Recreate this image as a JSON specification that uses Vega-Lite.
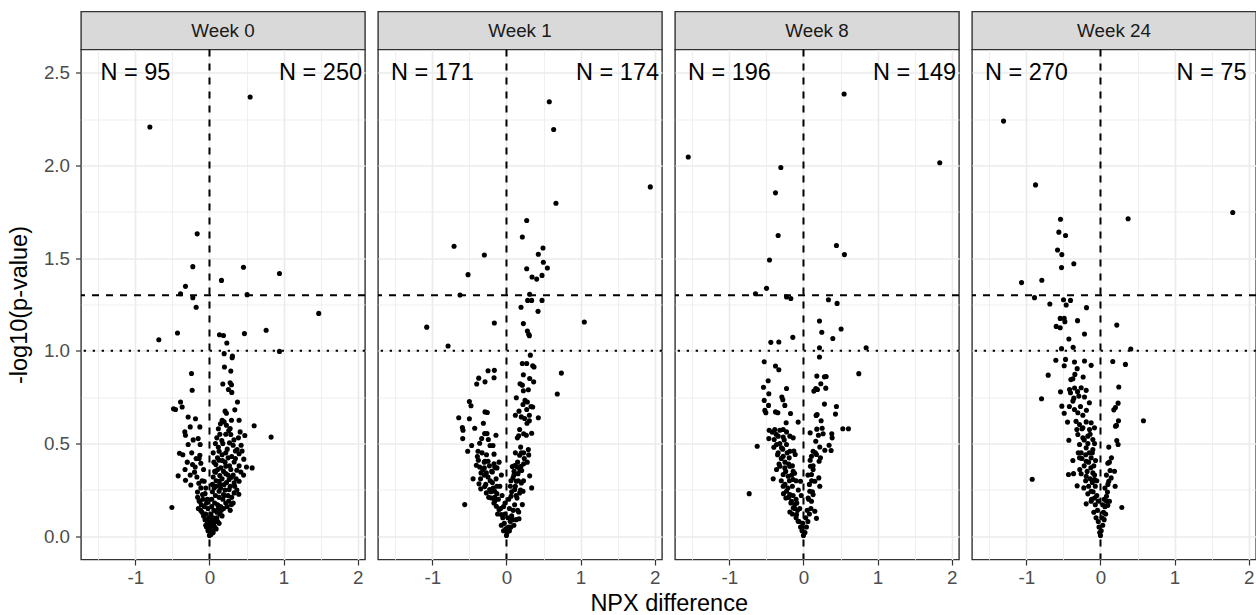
{
"$schema": "https://vega.github.io/schema/vega-lite/v6.json",
"background": "white",
"padding": {"left": 6, "top": 10.5, "right": 0, "bottom": 2},
"title": {"text": "NPX difference", "orient": "bottom", "anchor": "middle", "fontSize": 23.5, "fontWeight": "normal", "font": "Liberation Sans", "color": "#000000", "offset": 4, "dx": 37},
"datasets": {
"w0": [
{"x":0.549,"y":2.369},{"x":-0.805,"y":2.207},{"x":-0.166,"y":1.631},{"x":-0.225,"y":1.454},{"x":0.459,"y":1.451},{"x":0.945,"y":1.417},{"x":0.162,"y":1.380},{"x":-0.324,"y":1.348},{"x":-0.391,"y":1.308},{"x":-0.225,"y":1.287},{"x":0.508,"y":1.303},{"x":-0.180,"y":1.235},{"x":1.475,"y":1.202},{"x":-0.684,"y":1.060},{"x":-0.432,"y":1.096},{"x":0.135,"y":1.087},{"x":0.189,"y":1.083},{"x":0.472,"y":1.093},{"x":0.765,"y":1.111},{"x":0.234,"y":1.042},{"x":0.945,"y":0.997},{"x":0.198,"y":0.985},{"x":0.310,"y":0.972},{"x":0.306,"y":0.963},{"x":-0.243,"y":0.878},{"x":0.202,"y":0.913},{"x":0.288,"y":0.891},{"x":0.180,"y":0.821},{"x":0.279,"y":0.828},{"x":0.297,"y":0.817},{"x":-0.234,"y":0.788},{"x":0.256,"y":0.792},{"x":0.301,"y":0.776},{"x":-0.391,"y":0.724},{"x":0.378,"y":0.724},{"x":-0.369,"y":0.697},{"x":-0.486,"y":0.688},{"x":-0.459,"y":0.684},{"x":0.211,"y":0.675},{"x":0.229,"y":0.664},{"x":0.342,"y":0.682},{"x":-0.288,"y":0.643},{"x":-0.189,"y":0.634},{"x":0.171,"y":0.626},{"x":0.198,"y":0.617},{"x":0.297,"y":0.626},{"x":0.400,"y":0.626},{"x":-0.130,"y":0.590},{"x":0.229,"y":0.599},{"x":0.148,"y":0.607},{"x":0.279,"y":0.581},{"x":0.603,"y":0.596},{"x":-0.333,"y":0.563},{"x":-0.324,"y":0.545},{"x":0.414,"y":0.563},{"x":0.477,"y":0.544},{"x":0.288,"y":0.549},{"x":0.832,"y":0.535},{"x":-0.153,"y":0.527},{"x":0.099,"y":0.531},{"x":0.166,"y":0.517},{"x":0.391,"y":0.531},{"x":-0.288,"y":0.495},{"x":-0.126,"y":0.495},{"x":0.270,"y":0.504},{"x":0.319,"y":0.491},{"x":0.427,"y":0.491},{"x":0.130,"y":0.459},{"x":0.220,"y":0.450},{"x":0.373,"y":0.468},{"x":0.400,"y":0.445},{"x":-0.405,"y":0.448},{"x":-0.130,"y":0.437},{"x":-0.180,"y":0.419},{"x":0.108,"y":0.423},{"x":0.175,"y":0.409},{"x":0.252,"y":0.423},{"x":0.333,"y":0.401},{"x":0.463,"y":0.416},{"x":-0.117,"y":0.394},{"x":-0.229,"y":0.387},{"x":-0.193,"y":0.374},{"x":0.085,"y":0.387},{"x":0.153,"y":0.369},{"x":0.220,"y":0.378},{"x":0.288,"y":0.360},{"x":0.499,"y":0.374},{"x":0.576,"y":0.369},{"x":0.369,"y":0.356},{"x":0.423,"y":0.347},{"x":-0.202,"y":0.346},{"x":-0.423,"y":0.326},{"x":0.081,"y":0.346},{"x":0.139,"y":0.328},{"x":0.220,"y":0.338},{"x":0.297,"y":0.319},{"x":-0.324,"y":0.302},{"x":-0.252,"y":0.277},{"x":-0.144,"y":0.286},{"x":-0.072,"y":0.297},{"x":-0.117,"y":0.261},{"x":-0.162,"y":0.239},{"x":0.130,"y":0.297},{"x":0.198,"y":0.279},{"x":0.265,"y":0.306},{"x":0.333,"y":0.288},{"x":0.400,"y":0.297},{"x":0.063,"y":0.261},{"x":0.130,"y":0.243},{"x":0.189,"y":0.225},{"x":0.265,"y":0.252},{"x":0.333,"y":0.234},{"x":0.396,"y":0.227},{"x":-0.094,"y":0.225},{"x":-0.130,"y":0.189},{"x":-0.508,"y":0.155},{"x":0.297,"y":0.171},
{"x":0.05,"y":0.45},{"x":0.08,"y":0.50},{"x":0.12,"y":0.48},{"x":0.17,"y":0.44},{"x":0.24,"y":0.47},{"x":0.30,"y":0.43},{"x":0.35,"y":0.42},{"x":0.06,"y":0.40},{"x":0.11,"y":0.36},{"x":0.19,"y":0.35},{"x":0.25,"y":0.33},{"x":0.32,"y":0.33},{"x":0.36,"y":0.31},{"x":0.05,"y":0.32},{"x":0.09,"y":0.30},{"x":0.17,"y":0.31},{"x":0.23,"y":0.29},{"x":0.28,"y":0.27},{"x":0.04,"y":0.28},{"x":0.09,"y":0.27},{"x":0.15,"y":0.26},{"x":0.21,"y":0.25},{"x":0.25,"y":0.22},{"x":0.30,"y":0.21},{"x":0.04,"y":0.24},{"x":0.08,"y":0.22},{"x":0.13,"y":0.21},{"x":0.18,"y":0.20},{"x":0.22,"y":0.18},{"x":0.26,"y":0.19},{"x":0.03,"y":0.20},{"x":0.07,"y":0.18},{"x":0.11,"y":0.17},{"x":0.15,"y":0.16},{"x":0.19,"y":0.15},{"x":0.24,"y":0.16},{"x":0.03,"y":0.16},{"x":0.06,"y":0.14},{"x":0.10,"y":0.13},{"x":0.14,"y":0.12},{"x":0.17,"y":0.11},{"x":0.02,"y":0.12},{"x":0.05,"y":0.10},{"x":0.08,"y":0.09},{"x":0.11,"y":0.08},{"x":0.13,"y":0.07},{"x":0.02,"y":0.08},{"x":0.04,"y":0.06},{"x":0.07,"y":0.05},{"x":0.09,"y":0.04},{"x":0.01,"y":0.04},{"x":0.03,"y":0.03},{"x":0.05,"y":0.02},{"x":0.02,"y":0.01},{"x":0.00,"y":0.005},{"x":0.01,"y":0.02},{"x":0.06,"y":0.07},{"x":0.10,"y":0.10},{"x":0.16,"y":0.14},{"x":0.12,"y":0.15},{"x":0.20,"y":0.22},{"x":0.14,"y":0.28},{"x":0.07,"y":0.35},{"x":0.13,"y":0.41},{"x":0.21,"y":0.40},{"x":0.27,"y":0.38},{"x":0.14,"y":0.55},{"x":0.22,"y":0.55},{"x":0.18,"y":0.50},{"x":0.26,"y":0.57},{"x":0.12,"y":0.58},{"x":0.33,"y":0.52},{"x":0.35,"y":0.46},{"x":0.44,"y":0.46},{"x":0.40,"y":0.38},{"x":0.46,"y":0.33},{"x":0.34,"y":0.27},{"x":0.37,"y":0.25},{"x":0.28,"y":0.14},{"x":0.32,"y":0.18},
{"x":-0.02,"y":0.03},{"x":-0.04,"y":0.05},{"x":-0.03,"y":0.08},{"x":-0.06,"y":0.09},{"x":-0.08,"y":0.11},{"x":-0.05,"y":0.12},{"x":-0.10,"y":0.13},{"x":-0.12,"y":0.14},{"x":-0.15,"y":0.15},{"x":-0.07,"y":0.16},{"x":-0.11,"y":0.17},{"x":-0.14,"y":0.19},{"x":-0.09,"y":0.20},{"x":-0.04,"y":0.18},{"x":-0.16,"y":0.21},{"x":-0.06,"y":0.23},{"x":-0.02,"y":0.15},{"x":-0.01,"y":0.10},{"x":-0.03,"y":0.20},{"x":-0.05,"y":0.26},{"x":-0.10,"y":0.30},{"x":-0.17,"y":0.32},{"x":-0.26,"y":0.33},{"x":-0.30,"y":0.40},{"x":-0.14,"y":0.42},{"x":-0.24,"y":0.45},{"x":-0.33,"y":0.36},{"x":-0.36,"y":0.44},{"x":-0.22,"y":0.52},{"x":-0.26,"y":0.59},{"x":-0.08,"y":0.36},{"x":-0.05,"y":0.06},{"x":-0.01,"y":0.06}
],
"w1": [
{"x":0.578,"y":2.343},{"x":0.637,"y":2.194},{"x":1.942,"y":1.884},{"x":0.668,"y":1.796},{"x":0.273,"y":1.703},{"x":0.214,"y":1.614},{"x":-0.708,"y":1.564},{"x":0.493,"y":1.555},{"x":-0.299,"y":1.517},{"x":0.430,"y":1.521},{"x":0.498,"y":1.478},{"x":0.273,"y":1.443},{"x":0.552,"y":1.447},{"x":-0.519,"y":1.411},{"x":0.345,"y":1.398},{"x":0.408,"y":1.387},{"x":0.480,"y":1.407},{"x":-0.627,"y":1.301},{"x":0.313,"y":1.305},{"x":0.286,"y":1.272},{"x":0.340,"y":1.272},{"x":0.480,"y":1.272},{"x":0.196,"y":1.235},{"x":0.426,"y":1.213},{"x":-1.077,"y":1.128},{"x":-0.164,"y":1.150},{"x":1.051,"y":1.156},{"x":0.228,"y":1.147},{"x":0.282,"y":1.107},{"x":0.300,"y":1.089},{"x":0.309,"y":1.082},{"x":-0.789,"y":1.026},{"x":0.322,"y":0.977},{"x":0.214,"y":0.932},{"x":0.273,"y":0.932},{"x":0.354,"y":0.920},{"x":0.372,"y":0.913},{"x":0.741,"y":0.880},{"x":-0.249,"y":0.893},{"x":-0.164,"y":0.895},{"x":-0.375,"y":0.853},{"x":-0.168,"y":0.855},{"x":-0.290,"y":0.833},{"x":-0.402,"y":0.821},{"x":0.228,"y":0.871},{"x":0.313,"y":0.851},{"x":0.367,"y":0.833},{"x":0.183,"y":0.823},{"x":0.214,"y":0.815},{"x":0.228,"y":0.785},{"x":0.295,"y":0.790},{"x":0.686,"y":0.767},{"x":0.133,"y":0.747},{"x":-0.501,"y":0.727},{"x":-0.479,"y":0.704},{"x":0.250,"y":0.733},{"x":0.282,"y":0.724},{"x":0.223,"y":0.711},{"x":0.331,"y":0.700},{"x":0.273,"y":0.684},{"x":0.354,"y":0.697},{"x":-0.290,"y":0.671},{"x":-0.259,"y":0.668},{"x":0.120,"y":0.653},{"x":0.169,"y":0.675},{"x":0.200,"y":0.644},{"x":0.245,"y":0.635},{"x":0.309,"y":0.653},{"x":0.430,"y":0.639},{"x":-0.645,"y":0.639},{"x":-0.501,"y":0.634},{"x":-0.312,"y":0.610},{"x":0.309,"y":0.623},{"x":0.277,"y":0.610},{"x":-0.596,"y":0.587},{"x":-0.587,"y":0.572},{"x":-0.429,"y":0.583},{"x":0.178,"y":0.576},{"x":0.232,"y":0.553},{"x":0.268,"y":0.545},{"x":0.340,"y":0.556},{"x":0.147,"y":0.531},{"x":0.165,"y":0.542},{"x":-0.295,"y":0.554},{"x":-0.263,"y":0.554},{"x":-0.335,"y":0.527},{"x":-0.245,"y":0.522},{"x":-0.142,"y":0.545},{"x":-0.591,"y":0.527},{"x":-0.362,"y":0.502},{"x":-0.470,"y":0.490},{"x":-0.524,"y":0.459},{"x":-0.222,"y":0.490},{"x":-0.182,"y":0.490},{"x":-0.384,"y":0.459},{"x":-0.393,"y":0.430},{"x":-0.168,"y":0.443},{"x":0.191,"y":0.481},{"x":0.295,"y":0.468},{"x":0.232,"y":0.450},{"x":0.178,"y":0.437},{"x":0.300,"y":0.439},
{"x":-0.407,"y":0.383},{"x":-0.290,"y":0.405},{"x":-0.249,"y":0.405},{"x":-0.168,"y":0.391},{"x":-0.362,"y":0.374},{"x":-0.299,"y":0.369},{"x":-0.159,"y":0.374},{"x":-0.128,"y":0.369},{"x":-0.344,"y":0.342},{"x":-0.272,"y":0.342},{"x":-0.191,"y":0.347},{"x":-0.069,"y":0.331},{"x":-0.451,"y":0.310},{"x":0.079,"y":0.376},{"x":0.111,"y":0.382},{"x":0.142,"y":0.374},{"x":0.196,"y":0.378},{"x":0.232,"y":0.391},{"x":0.102,"y":0.351},{"x":0.156,"y":0.338},{"x":0.205,"y":0.355},{"x":0.313,"y":0.326},{"x":0.340,"y":0.261},{"x":0.088,"y":0.315},{"x":0.133,"y":0.297},{"x":0.201,"y":0.288},{"x":0.052,"y":0.270},{"x":0.111,"y":0.252},{"x":0.178,"y":0.234},{"x":0.223,"y":0.243},{"x":0.061,"y":0.216},{"x":0.142,"y":0.207},{"x":0.214,"y":0.171},{"x":0.165,"y":0.131},{"x":0.169,"y":0.095},{"x":-0.371,"y":0.283},{"x":-0.348,"y":0.256},{"x":-0.294,"y":0.268},{"x":-0.272,"y":0.234},{"x":-0.227,"y":0.252},{"x":-0.159,"y":0.243},{"x":-0.204,"y":0.207},{"x":-0.159,"y":0.189},{"x":-0.137,"y":0.162},{"x":-0.101,"y":0.144},{"x":-0.069,"y":0.117},{"x":-0.564,"y":0.171},
{"x":-0.05,"y":0.10},{"x":-0.03,"y":0.07},{"x":-0.01,"y":0.04},{"x":0.01,"y":0.02},{"x":0.00,"y":0.005},{"x":0.03,"y":0.05},{"x":0.05,"y":0.08},{"x":0.07,"y":0.11},{"x":0.09,"y":0.14},{"x":0.11,"y":0.17},{"x":0.04,"y":0.15},{"x":0.02,"y":0.10},{"x":-0.02,"y":0.12},{"x":-0.04,"y":0.16},{"x":-0.08,"y":0.15},{"x":-0.11,"y":0.20},{"x":-0.13,"y":0.23},{"x":-0.18,"y":0.26},{"x":-0.22,"y":0.30},{"x":-0.25,"y":0.32},{"x":-0.30,"y":0.33},{"x":-0.20,"y":0.35},{"x":-0.14,"y":0.31},{"x":-0.09,"y":0.27},{"x":-0.06,"y":0.22},{"x":-0.02,"y":0.18},{"x":0.03,"y":0.20},{"x":0.07,"y":0.24},{"x":0.12,"y":0.27},{"x":0.16,"y":0.30},{"x":0.06,"y":0.30},{"x":0.13,"y":0.22},{"x":0.10,"y":0.33},{"x":0.15,"y":0.40},{"x":0.24,"y":0.42},{"x":0.28,"y":0.40},{"x":0.18,"y":0.36},{"x":0.20,"y":0.45},{"x":0.12,"y":0.45},{"x":-0.27,"y":0.44},{"x":-0.33,"y":0.45},{"x":-0.30,"y":0.40},{"x":-0.35,"y":0.31},{"x":-0.28,"y":0.28},{"x":-0.24,"y":0.21},{"x":-0.17,"y":0.18},{"x":-0.12,"y":0.12},{"x":-0.07,"y":0.06},{"x":-0.04,"y":0.03},{"x":0.04,"y":0.03},{"x":0.06,"y":0.05},{"x":0.08,"y":0.09},{"x":-0.15,"y":0.37},{"x":-0.10,"y":0.40},{"x":-0.23,"y":0.38},{"x":-0.19,"y":0.29},{"x":-0.13,"y":0.27},{"x":0.19,"y":0.25},{"x":0.23,"y":0.30},{"x":0.15,"y":0.14},{"x":0.13,"y":0.09},{"x":0.10,"y":0.06},{"x":-0.16,"y":0.21},{"x":-0.21,"y":0.24},{"x":-0.32,"y":0.36},{"x":-0.38,"y":0.41}
],
"w8": [
{"x":0.549,"y":2.385},{"x":-1.556,"y":2.045},{"x":1.840,"y":2.014},{"x":-0.306,"y":1.989},{"x":-0.378,"y":1.852},{"x":-0.342,"y":1.622},{"x":0.445,"y":1.568},{"x":0.553,"y":1.519},{"x":-0.459,"y":1.490},{"x":-0.499,"y":1.337},{"x":-0.648,"y":1.308},{"x":-0.229,"y":1.291},{"x":-0.171,"y":1.282},{"x":0.337,"y":1.276},{"x":0.454,"y":1.256},{"x":0.216,"y":1.161},{"x":0.247,"y":1.100},{"x":0.508,"y":1.118},{"x":-0.144,"y":1.073},{"x":-0.441,"y":1.046},{"x":-0.333,"y":1.048},{"x":0.396,"y":1.067},{"x":0.216,"y":1.017},{"x":0.846,"y":1.017},{"x":0.216,"y":0.967},{"x":-0.531,"y":0.941},{"x":-0.378,"y":0.918},{"x":-0.333,"y":0.898},{"x":0.747,"y":0.877},{"x":0.180,"y":0.864},{"x":0.283,"y":0.860},{"x":0.306,"y":0.862},{"x":-0.477,"y":0.839},{"x":0.234,"y":0.823},{"x":-0.540,"y":0.804},{"x":-0.468,"y":0.769},{"x":-0.229,"y":0.797},{"x":0.166,"y":0.797},{"x":0.140,"y":0.783},{"x":0.189,"y":0.792},{"x":0.301,"y":0.799},{"x":-0.292,"y":0.751},{"x":-0.279,"y":0.736},{"x":-0.531,"y":0.733},{"x":-0.472,"y":0.706},{"x":-0.252,"y":0.706},{"x":0.283,"y":0.713},{"x":0.445,"y":0.700},{"x":-0.522,"y":0.679},{"x":-0.508,"y":0.666},{"x":-0.378,"y":0.671},{"x":-0.346,"y":0.666},{"x":-0.175,"y":0.662},{"x":0.432,"y":0.659},{"x":0.171,"y":0.652},{"x":0.184,"y":0.657},{"x":0.238,"y":0.623},{"x":-0.072,"y":0.616},{"x":-0.234,"y":0.612},{"x":0.531,"y":0.580},{"x":0.607,"y":0.580},{"x":0.180,"y":0.578},{"x":0.252,"y":0.583},{"x":-0.463,"y":0.572},{"x":-0.423,"y":0.562},{"x":-0.387,"y":0.576},{"x":-0.319,"y":0.572},{"x":-0.274,"y":0.576},{"x":-0.229,"y":0.563},{"x":0.090,"y":0.558},{"x":0.202,"y":0.545},{"x":0.265,"y":0.553},{"x":0.382,"y":0.553},{"x":0.387,"y":0.531},
{"x":-0.468,"y":0.527},{"x":-0.396,"y":0.522},{"x":-0.342,"y":0.540},{"x":-0.274,"y":0.535},{"x":-0.184,"y":0.540},{"x":-0.139,"y":0.531},{"x":-0.625,"y":0.486},{"x":0.166,"y":0.513},{"x":0.220,"y":0.482},{"x":0.288,"y":0.464},{"x":0.346,"y":0.491},{"x":0.373,"y":0.463},{"x":-0.364,"y":0.495},{"x":-0.297,"y":0.477},{"x":-0.229,"y":0.495},{"x":-0.184,"y":0.459},{"x":-0.112,"y":0.441},{"x":-0.342,"y":0.450},{"x":-0.274,"y":0.432},{"x":-0.193,"y":0.423},{"x":0.130,"y":0.459},{"x":0.108,"y":0.432},{"x":0.175,"y":0.441},{"x":0.229,"y":0.423},{"x":0.211,"y":0.405},{"x":-0.364,"y":0.360},{"x":-0.319,"y":0.378},{"x":-0.252,"y":0.369},{"x":-0.184,"y":0.378},{"x":-0.139,"y":0.351},{"x":-0.274,"y":0.333},{"x":-0.207,"y":0.324},{"x":-0.409,"y":0.310},{"x":-0.139,"y":0.306},{"x":-0.040,"y":0.297},{"x":0.094,"y":0.378},{"x":0.130,"y":0.360},{"x":0.108,"y":0.333},{"x":0.207,"y":0.315},{"x":0.153,"y":0.297},{"x":0.220,"y":0.270},{"x":-0.733,"y":0.230},{"x":-0.274,"y":0.270},{"x":-0.229,"y":0.243},{"x":-0.184,"y":0.225},{"x":-0.238,"y":0.207},{"x":-0.162,"y":0.189},{"x":-0.117,"y":0.171},{"x":-0.184,"y":0.131},{"x":-0.139,"y":0.153},{"x":-0.094,"y":0.117},{"x":-0.072,"y":0.081},{"x":0.085,"y":0.243},{"x":0.130,"y":0.225},{"x":0.063,"y":0.207},{"x":0.108,"y":0.189},{"x":0.153,"y":0.135},{"x":0.175,"y":0.097},
{"x":-0.30,"y":0.42},{"x":-0.25,"y":0.40},{"x":-0.20,"y":0.39},{"x":-0.15,"y":0.38},{"x":-0.28,"y":0.47},{"x":-0.22,"y":0.45},{"x":-0.33,"y":0.39},{"x":-0.30,"y":0.30},{"x":-0.25,"y":0.28},{"x":-0.19,"y":0.30},{"x":-0.15,"y":0.27},{"x":-0.21,"y":0.26},{"x":-0.27,"y":0.23},{"x":-0.20,"y":0.21},{"x":-0.14,"y":0.22},{"x":-0.10,"y":0.20},{"x":-0.17,"y":0.18},{"x":-0.12,"y":0.15},{"x":-0.08,"y":0.14},{"x":-0.15,"y":0.12},{"x":-0.10,"y":0.10},{"x":-0.06,"y":0.08},{"x":-0.04,"y":0.05},{"x":-0.02,"y":0.03},{"x":0.00,"y":0.005},{"x":0.02,"y":0.02},{"x":0.04,"y":0.05},{"x":0.06,"y":0.08},{"x":0.08,"y":0.12},{"x":0.10,"y":0.15},{"x":0.05,"y":0.14},{"x":0.03,"y":0.10},{"x":-0.01,"y":0.07},{"x":0.07,"y":0.20},{"x":0.12,"y":0.24},{"x":0.08,"y":0.28},{"x":0.11,"y":0.30},{"x":0.06,"y":0.33},{"x":0.13,"y":0.38},{"x":0.09,"y":0.41},{"x":0.16,"y":0.45},{"x":-0.05,"y":0.15},{"x":-0.03,"y":0.22},{"x":-0.07,"y":0.25},{"x":-0.10,"y":0.30},{"x":-0.12,"y":0.34},{"x":-0.16,"y":0.33},{"x":-0.09,"y":0.18},{"x":-0.24,"y":0.35},{"x":-0.35,"y":0.44},{"x":-0.26,"y":0.52},{"x":-0.32,"y":0.50},{"x":-0.13,"y":0.46},{"x":-0.40,"y":0.48},{"x":-0.37,"y":0.55}
],
"w24": [
{"x":-1.309,"y":2.239},{"x":-0.877,"y":1.895},{"x":1.786,"y":1.746},{"x":0.373,"y":1.712},{"x":-0.540,"y":1.710},{"x":-0.562,"y":1.640},{"x":-0.472,"y":1.622},{"x":-0.580,"y":1.544},{"x":-0.522,"y":1.519},{"x":-0.526,"y":1.449},{"x":-0.360,"y":1.470},{"x":-1.066,"y":1.368},{"x":-0.792,"y":1.381},{"x":-0.891,"y":1.287},{"x":-0.499,"y":1.276},{"x":-0.405,"y":1.272},{"x":-0.684,"y":1.253},{"x":-0.463,"y":1.247},{"x":-0.189,"y":1.233},{"x":-0.544,"y":1.175},{"x":-0.490,"y":1.175},{"x":-0.481,"y":1.157},{"x":-0.598,"y":1.132},{"x":-0.544,"y":1.125},{"x":-0.310,"y":1.163},{"x":0.220,"y":1.139},{"x":-0.216,"y":1.091},{"x":-0.427,"y":1.064},{"x":-0.526,"y":1.012},{"x":-0.369,"y":1.019},{"x":0.409,"y":1.010},{"x":-0.603,"y":0.949},{"x":-0.472,"y":0.954},{"x":-0.490,"y":0.920},{"x":-0.351,"y":0.940},{"x":-0.216,"y":0.945},{"x":-0.126,"y":0.922},{"x":0.166,"y":0.943},{"x":0.337,"y":0.927},{"x":-0.706,"y":0.869},{"x":-0.315,"y":0.904},{"x":-0.346,"y":0.873},{"x":-0.234,"y":0.859},{"x":-0.400,"y":0.845},{"x":-0.373,"y":0.850},{"x":0.247,"y":0.805},{"x":-0.540,"y":0.779},{"x":-0.418,"y":0.792},{"x":-0.405,"y":0.774},{"x":-0.261,"y":0.801},{"x":-0.193,"y":0.787},{"x":-0.796,"y":0.742},
{"x":-0.360,"y":0.745},{"x":-0.292,"y":0.756},{"x":-0.216,"y":0.751},{"x":-0.373,"y":0.729},{"x":0.238,"y":0.718},{"x":0.202,"y":0.695},{"x":0.180,"y":0.682},{"x":-0.522,"y":0.702},{"x":-0.490,"y":0.664},{"x":-0.351,"y":0.684},{"x":-0.306,"y":0.666},{"x":-0.238,"y":0.653},{"x":0.580,"y":0.623},{"x":-0.445,"y":0.616},{"x":-0.193,"y":0.617},{"x":-0.126,"y":0.612},{"x":-0.283,"y":0.603},{"x":-0.319,"y":0.576},{"x":-0.238,"y":0.585},{"x":-0.148,"y":0.576},{"x":-0.081,"y":0.585},{"x":0.243,"y":0.623},{"x":0.216,"y":0.598},{"x":0.203,"y":0.594},{"x":-0.427,"y":0.518},{"x":-0.306,"y":0.549},{"x":-0.238,"y":0.531},{"x":-0.171,"y":0.540},{"x":-0.103,"y":0.522},{"x":-0.283,"y":0.495},{"x":-0.193,"y":0.477},{"x":-0.103,"y":0.468},{"x":-0.261,"y":0.450},{"x":0.220,"y":0.517},{"x":0.238,"y":0.495},{"x":0.112,"y":0.481},{"x":-0.373,"y":0.409},{"x":-0.283,"y":0.423},{"x":-0.193,"y":0.405},{"x":-0.126,"y":0.423},{"x":-0.067,"y":0.409},{"x":0.148,"y":0.423},{"x":0.099,"y":0.394},{"x":-0.432,"y":0.333},{"x":-0.364,"y":0.338},{"x":-0.261,"y":0.337},{"x":-0.193,"y":0.324},{"x":-0.103,"y":0.342},{"x":-0.081,"y":0.306},{"x":0.130,"y":0.355},{"x":0.189,"y":0.351},{"x":0.112,"y":0.297},{"x":0.144,"y":0.315},{"x":0.198,"y":0.270},{"x":-0.922,"y":0.308},{"x":-0.315,"y":0.272},{"x":-0.225,"y":0.261},{"x":-0.171,"y":0.229},{"x":-0.126,"y":0.243},{"x":-0.081,"y":0.207},{"x":-0.193,"y":0.175},{"x":-0.126,"y":0.189},{"x":0.094,"y":0.239},{"x":0.081,"y":0.216},{"x":0.121,"y":0.189},{"x":0.099,"y":0.167},{"x":0.288,"y":0.155},
{"x":-0.15,"y":0.45},{"x":-0.20,"y":0.44},{"x":-0.25,"y":0.42},{"x":-0.16,"y":0.40},{"x":-0.22,"y":0.38},{"x":-0.13,"y":0.37},{"x":-0.28,"y":0.36},{"x":-0.18,"y":0.35},{"x":-0.09,"y":0.38},{"x":-0.14,"y":0.31},{"x":-0.20,"y":0.30},{"x":-0.11,"y":0.29},{"x":-0.07,"y":0.27},{"x":-0.16,"y":0.27},{"x":-0.10,"y":0.24},{"x":-0.05,"y":0.22},{"x":-0.12,"y":0.20},{"x":-0.07,"y":0.17},{"x":-0.04,"y":0.14},{"x":-0.09,"y":0.13},{"x":-0.06,"y":0.10},{"x":-0.03,"y":0.08},{"x":-0.02,"y":0.05},{"x":-0.01,"y":0.02},{"x":0.00,"y":0.005},{"x":0.01,"y":0.03},{"x":0.03,"y":0.06},{"x":0.05,"y":0.09},{"x":0.07,"y":0.12},{"x":0.04,"y":0.13},{"x":0.02,"y":0.10},{"x":0.06,"y":0.16},{"x":0.08,"y":0.19},{"x":0.05,"y":0.20},{"x":0.03,"y":0.17},{"x":-0.03,"y":0.19},{"x":-0.05,"y":0.30},{"x":-0.08,"y":0.33},{"x":-0.11,"y":0.45},{"x":-0.17,"y":0.50},{"x":-0.22,"y":0.52},{"x":-0.14,"y":0.55},{"x":-0.08,"y":0.50},{"x":-0.30,"y":0.45},{"x":-0.25,"y":0.58},{"x":-0.33,"y":0.62},{"x":-0.27,"y":0.70},{"x":-0.31,"y":0.78},{"x":-0.35,"y":0.80},{"x":-0.19,"y":0.68},{"x":-0.15,"y":0.72},{"x":-0.42,"y":0.70},{"x":0.06,"y":0.26},{"x":0.10,"y":0.28},{"x":0.08,"y":0.33},{"x":0.12,"y":0.40}
]
},
"spacing": 9,
"hconcat": [
{"spacing": 0, "bounds": "flush", "vconcat": [
 {"width": 284, "height": 38, "data": {"values": [{"t": "Week 0"}]}, "view": {"fill": "#D9D9D9", "stroke": "#333333", "strokeWidth": 1.4}, "mark": {"type": "text", "fontSize": 18.8, "color": "#1A1A1A", "font": "Liberation Sans"}, "encoding": {"text": {"field": "t"}}},
 {"width": 284, "height": 510, "layer": [
  {"data": {"name": "w0"}, "mark": {"type": "circle", "size": 26, "color": "#000000", "opacity": 1},
   "encoding": {
    "x": {"field": "x", "type": "quantitative", "scale": {"domain": [-1.735, 2.1], "nice": false, "zero": false}, "axis": {"title": null, "values": [-1.5,-1,-0.5,0,0.5,1,1.5,2], "labelExpr": "datum.value % 1 === 0 ? '' + datum.value : ''", "labelOverlap": false, "gridWidth": {"condition": {"test": "datum.value % 1 !== 0", "value": 0.8}, "value": 1.6}, "tickOpacity": {"condition": {"test": "datum.value % 1 !== 0", "value": 0}, "value": 1}}},
    "y": {"field": "y", "type": "quantitative", "scale": {"domain": [-0.125, 2.625], "nice": false, "zero": false}, "axis": {"title": "-log10(p-value)", "values": [0,0.25,0.5,0.75,1,1.25,1.5,1.75,2,2.25,2.5], "labelExpr": "datum.value % 0.5 === 0 ? format(datum.value, '.1f') : ''", "labelOverlap": false, "gridWidth": {"condition": {"test": "datum.value % 0.5 !== 0", "value": 0.8}, "value": 1.6}, "tickOpacity": {"condition": {"test": "datum.value % 0.5 !== 0", "value": 0}, "value": 1}}}
   }},
  {"data": {"values": [{"x": 0}]}, "mark": {"type": "rule", "strokeDash": [7, 7], "strokeWidth": 2, "color": "#000000"}, "encoding": {"x": {"field": "x", "type": "quantitative", "scale": {"domain": [-1.735, 2.1], "nice": false, "zero": false}}}},
  {"data": {"values": [{"y": 1.3}]}, "mark": {"type": "rule", "strokeDash": [7, 7], "strokeWidth": 2, "color": "#000000"}, "encoding": {"y": {"field": "y", "type": "quantitative", "scale": {"domain": [-0.125, 2.625], "nice": false, "zero": false}}}},
  {"data": {"values": [{"y": 1.0}]}, "mark": {"type": "rule", "strokeDash": [2.3, 6.7], "strokeWidth": 2, "color": "#000000"}, "encoding": {"y": {"field": "y", "type": "quantitative", "scale": {"domain": [-0.125, 2.625], "nice": false, "zero": false}}}},
  {"data": {"values": [{"x": -1, "y": 2.5, "t": "N = 95"}, {"x": 1.5, "y": 2.5, "t": "N = 250"}]}, "mark": {"type": "text", "fontSize": 23.5, "color": "#000000", "font": "Liberation Sans"}, "encoding": {"x": {"field": "x", "type": "quantitative", "scale": {"domain": [-1.735, 2.1], "nice": false, "zero": false}}, "y": {"field": "y", "type": "quantitative", "scale": {"domain": [-0.125, 2.625], "nice": false, "zero": false}}, "text": {"field": "t"}}}
 ]}
]},
{"spacing": 0, "bounds": "flush", "vconcat": [
 {"width": 284, "height": 38, "data": {"values": [{"t": "Week 1"}]}, "view": {"fill": "#D9D9D9", "stroke": "#333333", "strokeWidth": 1.4}, "mark": {"type": "text", "fontSize": 18.8, "color": "#1A1A1A", "font": "Liberation Sans"}, "encoding": {"text": {"field": "t"}}},
 {"width": 284, "height": 510, "layer": [
  {"data": {"name": "w1"}, "mark": {"type": "circle", "size": 26, "color": "#000000", "opacity": 1},
   "encoding": {
    "x": {"field": "x", "type": "quantitative", "scale": {"domain": [-1.735, 2.1], "nice": false, "zero": false}, "axis": {"title": null, "values": [-1.5,-1,-0.5,0,0.5,1,1.5,2], "labelExpr": "datum.value % 1 === 0 ? '' + datum.value : ''", "labelOverlap": false, "gridWidth": {"condition": {"test": "datum.value % 1 !== 0", "value": 0.8}, "value": 1.6}, "tickOpacity": {"condition": {"test": "datum.value % 1 !== 0", "value": 0}, "value": 1}}},
    "y": {"field": "y", "type": "quantitative", "scale": {"domain": [-0.125, 2.625], "nice": false, "zero": false}, "axis": {"title": null, "labels": false, "ticks": false, "values": [0,0.25,0.5,0.75,1,1.25,1.5,1.75,2,2.25,2.5], "gridWidth": {"condition": {"test": "datum.value % 0.5 !== 0", "value": 0.8}, "value": 1.6}}}
   }},
  {"data": {"values": [{"x": 0}]}, "mark": {"type": "rule", "strokeDash": [7, 7], "strokeWidth": 2, "color": "#000000"}, "encoding": {"x": {"field": "x", "type": "quantitative", "scale": {"domain": [-1.735, 2.1], "nice": false, "zero": false}}}},
  {"data": {"values": [{"y": 1.3}]}, "mark": {"type": "rule", "strokeDash": [7, 7], "strokeWidth": 2, "color": "#000000"}, "encoding": {"y": {"field": "y", "type": "quantitative", "scale": {"domain": [-0.125, 2.625], "nice": false, "zero": false}}}},
  {"data": {"values": [{"y": 1.0}]}, "mark": {"type": "rule", "strokeDash": [2.3, 6.7], "strokeWidth": 2, "color": "#000000"}, "encoding": {"y": {"field": "y", "type": "quantitative", "scale": {"domain": [-0.125, 2.625], "nice": false, "zero": false}}}},
  {"data": {"values": [{"x": -1, "y": 2.5, "t": "N = 171"}, {"x": 1.5, "y": 2.5, "t": "N = 174"}]}, "mark": {"type": "text", "fontSize": 23.5, "color": "#000000", "font": "Liberation Sans"}, "encoding": {"x": {"field": "x", "type": "quantitative", "scale": {"domain": [-1.735, 2.1], "nice": false, "zero": false}}, "y": {"field": "y", "type": "quantitative", "scale": {"domain": [-0.125, 2.625], "nice": false, "zero": false}}, "text": {"field": "t"}}}
 ]}
]},
{"spacing": 0, "bounds": "flush", "vconcat": [
 {"width": 284, "height": 38, "data": {"values": [{"t": "Week 8"}]}, "view": {"fill": "#D9D9D9", "stroke": "#333333", "strokeWidth": 1.4}, "mark": {"type": "text", "fontSize": 18.8, "color": "#1A1A1A", "font": "Liberation Sans"}, "encoding": {"text": {"field": "t"}}},
 {"width": 284, "height": 510, "layer": [
  {"data": {"name": "w8"}, "mark": {"type": "circle", "size": 26, "color": "#000000", "opacity": 1},
   "encoding": {
    "x": {"field": "x", "type": "quantitative", "scale": {"domain": [-1.735, 2.1], "nice": false, "zero": false}, "axis": {"title": null, "values": [-1.5,-1,-0.5,0,0.5,1,1.5,2], "labelExpr": "datum.value % 1 === 0 ? '' + datum.value : ''", "labelOverlap": false, "gridWidth": {"condition": {"test": "datum.value % 1 !== 0", "value": 0.8}, "value": 1.6}, "tickOpacity": {"condition": {"test": "datum.value % 1 !== 0", "value": 0}, "value": 1}}},
    "y": {"field": "y", "type": "quantitative", "scale": {"domain": [-0.125, 2.625], "nice": false, "zero": false}, "axis": {"title": null, "labels": false, "ticks": false, "values": [0,0.25,0.5,0.75,1,1.25,1.5,1.75,2,2.25,2.5], "gridWidth": {"condition": {"test": "datum.value % 0.5 !== 0", "value": 0.8}, "value": 1.6}}}
   }},
  {"data": {"values": [{"x": 0}]}, "mark": {"type": "rule", "strokeDash": [7, 7], "strokeWidth": 2, "color": "#000000"}, "encoding": {"x": {"field": "x", "type": "quantitative", "scale": {"domain": [-1.735, 2.1], "nice": false, "zero": false}}}},
  {"data": {"values": [{"y": 1.3}]}, "mark": {"type": "rule", "strokeDash": [7, 7], "strokeWidth": 2, "color": "#000000"}, "encoding": {"y": {"field": "y", "type": "quantitative", "scale": {"domain": [-0.125, 2.625], "nice": false, "zero": false}}}},
  {"data": {"values": [{"y": 1.0}]}, "mark": {"type": "rule", "strokeDash": [2.3, 6.7], "strokeWidth": 2, "color": "#000000"}, "encoding": {"y": {"field": "y", "type": "quantitative", "scale": {"domain": [-0.125, 2.625], "nice": false, "zero": false}}}},
  {"data": {"values": [{"x": -1, "y": 2.5, "t": "N = 196"}, {"x": 1.5, "y": 2.5, "t": "N = 149"}]}, "mark": {"type": "text", "fontSize": 23.5, "color": "#000000", "font": "Liberation Sans"}, "encoding": {"x": {"field": "x", "type": "quantitative", "scale": {"domain": [-1.735, 2.1], "nice": false, "zero": false}}, "y": {"field": "y", "type": "quantitative", "scale": {"domain": [-0.125, 2.625], "nice": false, "zero": false}}, "text": {"field": "t"}}}
 ]}
]},
{"spacing": 0, "bounds": "flush", "vconcat": [
 {"width": 284, "height": 38, "data": {"values": [{"t": "Week 24"}]}, "view": {"fill": "#D9D9D9", "stroke": "#333333", "strokeWidth": 1.4}, "mark": {"type": "text", "fontSize": 18.8, "color": "#1A1A1A", "font": "Liberation Sans"}, "encoding": {"text": {"field": "t"}}},
 {"width": 284, "height": 510, "layer": [
  {"data": {"name": "w24"}, "mark": {"type": "circle", "size": 26, "color": "#000000", "opacity": 1},
   "encoding": {
    "x": {"field": "x", "type": "quantitative", "scale": {"domain": [-1.735, 2.1], "nice": false, "zero": false}, "axis": {"title": null, "values": [-1.5,-1,-0.5,0,0.5,1,1.5,2], "labelExpr": "datum.value % 1 === 0 ? '' + datum.value : ''", "labelOverlap": false, "gridWidth": {"condition": {"test": "datum.value % 1 !== 0", "value": 0.8}, "value": 1.6}, "tickOpacity": {"condition": {"test": "datum.value % 1 !== 0", "value": 0}, "value": 1}}},
    "y": {"field": "y", "type": "quantitative", "scale": {"domain": [-0.125, 2.625], "nice": false, "zero": false}, "axis": {"title": null, "labels": false, "ticks": false, "values": [0,0.25,0.5,0.75,1,1.25,1.5,1.75,2,2.25,2.5], "gridWidth": {"condition": {"test": "datum.value % 0.5 !== 0", "value": 0.8}, "value": 1.6}}}
   }},
  {"data": {"values": [{"x": 0}]}, "mark": {"type": "rule", "strokeDash": [7, 7], "strokeWidth": 2, "color": "#000000"}, "encoding": {"x": {"field": "x", "type": "quantitative", "scale": {"domain": [-1.735, 2.1], "nice": false, "zero": false}}}},
  {"data": {"values": [{"y": 1.3}]}, "mark": {"type": "rule", "strokeDash": [7, 7], "strokeWidth": 2, "color": "#000000"}, "encoding": {"y": {"field": "y", "type": "quantitative", "scale": {"domain": [-0.125, 2.625], "nice": false, "zero": false}}}},
  {"data": {"values": [{"y": 1.0}]}, "mark": {"type": "rule", "strokeDash": [2.3, 6.7], "strokeWidth": 2, "color": "#000000"}, "encoding": {"y": {"field": "y", "type": "quantitative", "scale": {"domain": [-0.125, 2.625], "nice": false, "zero": false}}}},
  {"data": {"values": [{"x": -1, "y": 2.5, "t": "N = 270"}, {"x": 1.5, "y": 2.5, "t": "N = 75"}]}, "mark": {"type": "text", "fontSize": 23.5, "color": "#000000", "font": "Liberation Sans"}, "encoding": {"x": {"field": "x", "type": "quantitative", "scale": {"domain": [-1.735, 2.1], "nice": false, "zero": false}}, "y": {"field": "y", "type": "quantitative", "scale": {"domain": [-0.125, 2.625], "nice": false, "zero": false}}, "text": {"field": "t"}}}
 ]}
]}
],
"config": {
 "font": "Liberation Sans",
 "view": {"stroke": "#333333", "strokeWidth": 1.4, "fill": "#FFFFFF"},
 "axis": {"domain": false, "grid": true, "gridColor": "#EBEBEB", "tickColor": "#333333", "tickWidth": 1.2, "tickSize": 5.5, "labelColor": "#4D4D4D", "labelFontSize": 18.8, "labelPadding": 6, "labelFont": "Liberation Sans", "titleFont": "Liberation Sans", "titleColor": "#000000", "titleFontSize": 23.5, "titleFontWeight": "normal"},
 "axisX": {"labelPadding": 3},
 "axisY": {"titlePadding": 12},
 "text": {"font": "Liberation Sans"}
}
}
